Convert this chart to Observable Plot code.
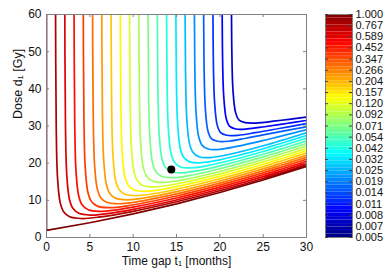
<!DOCTYPE html>
<html><head><meta charset="utf-8">
<script src="https://cdn.jsdelivr.net/npm/d3@7"></script>
<script src="https://cdn.jsdelivr.net/npm/@observablehq/plot@0.6"></script>
<style>
html,body{margin:0;padding:0;background:#fff;}
#chart{position:relative;width:388px;height:273px;}
#chart svg{position:absolute;left:0;top:0;}
</style></head><body><div id="chart"></div>
<script>
const levelLabels = ["1.000","0.767","0.589","0.452","0.347","0.266","0.204","0.157","0.120","0.092","0.071","0.054","0.042","0.032","0.025","0.019","0.014","0.011","0.008","0.007","0.005"];
const xTicks = [0,5,10,15,20,25,30];
const yTicks = [0,10,20,30,40,50,60];
const markerPoint = [[14.4, 18.3]];

// contour lines, one per level (t1 in months, d1 in Gy)
const c00 = [[0,60],[0,1.9],[5,3.96],[10,6.35],[15,9.06],[20,12.1],[25,15.46],[30,19.15]];
const c01 = [[1.035,69.23],[1.125,29.27],[1.275,15.99],[1.575,9.45],[1.975,6.94],[2.675,5.58],[3.975,5.11],[5.975,5.46],[10,7.05],[15,9.61],[20,12.57],[25,15.89],[30,19.55]];
const c02 = [[2.1,70.13],[2.19,30.16],[2.34,16.88],[2.64,10.35],[3.04,7.85],[3.74,6.50],[5.04,6.04],[7.04,6.43],[10,7.58],[15,10.10],[20,13.05],[25,16.37],[30,20.02]];
const c03 = [[3.167,71.06],[3.257,31.10],[3.407,17.82],[3.707,11.29],[4.107,8.79],[4.807,7.45],[6.107,7.02],[8.107,7.43],[10,8.15],[15,10.62],[20,13.56],[25,16.87],[30,20.52]];
const c04 = [[4.23,72.02],[4.32,32.06],[4.47,18.79],[4.77,12.26],[5.17,9.77],[5.87,8.44],[7.17,8.02],[9.17,8.46],[15,11.16],[20,14.08],[25,17.38],[30,21.04]];
const c05 = [[5.3,73.04],[5.39,33.08],[5.54,19.80],[5.84,13.28],[6.24,10.79],[6.94,9.47],[8.24,9.08],[10.24,9.54],[15,11.74],[20,14.64],[25,17.93],[30,21.58]];
const c06 = [[6.36,74.07],[6.45,34.11],[6.6,20.84],[6.9,14.32],[7.3,11.84],[8.0,10.53],[9.3,10.15],[11.3,10.64],[15,12.34],[20,15.21],[25,18.49],[30,22.14]];
const c07 = [[7.43,75.14],[7.52,35.19],[7.67,21.92],[7.97,15.40],[8.37,12.93],[9.07,11.62],[10.37,11.26],[12.37,11.79],[15,12.98],[20,15.81],[25,19.08],[30,22.72]];
const c08 = [[8.49,76.26],[8.58,36.31],[8.73,23.04],[9.03,16.53],[9.43,14.06],[10.13,12.77],[11.43,12.43],[13.43,12.98],[15,13.67],[20,16.45],[25,19.70],[30,23.33]];
const c09 = [[9.56,77.42],[9.65,37.46],[9.8,24.20],[10.1,17.69],[10.5,15.23],[11.2,13.94],[12.5,13.62],[14.5,14.20],[20,17.10],[25,20.34],[30,23.96]];
const c10 = [[10.625,78.59],[10.715,38.64],[10.865,25.38],[11.165,18.87],[11.565,16.41],[12.265,15.14],[13.565,14.83],[15.565,15.44],[20,17.77],[25,20.99],[30,24.61]];
const c11 = [[11.69,79.82],[11.78,39.87],[11.93,26.61],[12.23,20.11],[12.63,17.66],[13.33,16.39],[14.63,16.10],[16.63,16.74],[20,18.50],[25,21.68],[30,25.29]];
const c12 = [[12.76,81.09],[12.85,41.14],[13.0,27.88],[13.3,21.38],[13.7,18.94],[14.4,17.68],[15.7,17.41],[17.7,18.07],[20,19.26],[25,22.40],[30,25.99]];
const c13 = [[13.82,82.37],[13.91,42.42],[14.06,29.17],[14.36,22.68],[14.76,20.24],[15.46,18.99],[16.76,18.74],[18.76,19.43],[22,21.20],[25,23.13],[30,26.71]];
const c14 = [[14.89,83.71],[14.98,43.76],[15.13,30.51],[15.43,24.02],[15.83,21.58],[16.53,20.35],[17.83,20.12],[19.83,20.83],[22.5,22.30],[25,23.89],[30,27.45]];
const c15 = [[15.95,85.06],[16.04,45.12],[16.19,31.87],[16.49,25.38],[16.89,22.95],[17.59,21.73],[18.89,21.51],[20.89,22.26],[25,24.68],[30,28.21]];
const c16 = [[17.02,86.5],[17.11,46.6],[17.26,33.5],[17.56,27.1],[17.96,24.8],[18.66,23.8],[19.96,23.7],[21.96,24.5],[25,26.1],[30,29.0]];
const c17 = [[18.08,88.0],[18.17,48.0],[18.32,35.0],[18.62,28.7],[19.02,26.6],[19.72,25.9],[21.02,25.9],[23.02,26.7],[25,27.6],[30,29.81]];
const c18 = [[19.15,89.4],[19.24,49.6],[19.39,36.6],[19.69,30.3],[20.09,28.2],[20.79,27.5],[22.09,27.5],[24.09,28.2],[27,29.4],[30,30.64]];
const c19 = [[20.21,91.0],[20.3,51.0],[20.45,38.0],[20.75,31.9],[21.15,29.9],[21.85,29.2],[23.15,29.2],[25.15,29.8],[27.5,30.6],[30,31.5]];
const c20 = [[21.28,92.0],[21.37,52.5],[21.52,39.5],[21.82,33.6],[22.22,31.6],[22.92,30.9],[24.22,30.8],[26.22,31.3],[28,31.8],[30,32.4]];
const curves = [c00,c01,c02,c03,c04,c05,c06,c07,c08,c09,c10,c11,c12,c13,c14,c15,c16,c17,c18,c19,c20];

const jetDomain = [0, 2.5, 7.5, 12.5, 17.5, 20];
const jetRange = ["#00007f","#0000ff","#00ffff","#ffff00","#ff0000","#7f0000"];
const colorScale = {type:"linear", domain: jetDomain, range: jetRange, interpolate:"rgb"};
const font = "'Liberation Sans', Arial, Helvetica, sans-serif";
const axisGrey = "#808080";

const rows = curves.flatMap((pts,k)=>pts.map(([t,d])=>({t,d,k})));
const lineColorValue = r => 1.6 + 18.4*(20 - r.k)/20;

const main = Plot.plot({
  width:388, height:273, marginLeft:46, marginRight:82, marginTop:14, marginBottom:36,
  style:{fontFamily:font, fontSize:"12px", color:"#111", background:"#fff"},
  x:{domain:[0,30]}, y:{domain:[0,60]},
  color: colorScale,
  marks:[
    Plot.line(rows.filter(r=>r.k>0), {x:"t", y:"d", z:"k", stroke:lineColorValue, curve:"catmull-rom", strokeWidth:1.7, clip:true}),
    Plot.line(rows.filter(r=>r.k===0), {x:"t", y:"d", stroke:lineColorValue, strokeWidth:1.7, clip:true}),
    Plot.dot(markerPoint, {x:d=>d[0], y:d=>d[1], r:4, fill:"#000"}),
    Plot.frame({stroke:axisGrey}),
    Plot.tickX(xTicks, {x:d=>d, insetTop:220, stroke:axisGrey}),
    Plot.tickX(xTicks, {x:d=>d, insetBottom:220, stroke:axisGrey}),
    Plot.tickY(yTicks, {y:d=>d, insetRight:257, stroke:axisGrey}),
    Plot.tickY(yTicks, {y:d=>d, insetLeft:257, stroke:axisGrey}),
    Plot.axisX({ticks:xTicks, tickSize:0, tickPadding:5, label:null, fontSize:12}),
    Plot.axisY({ticks:yTicks, tickSize:0, tickPadding:5, label:null, fontSize:12}),
    Plot.text(["Time gap t₁ [months]"], {text:d=>d, frameAnchor:"bottom", dy:24, lineAnchor:"middle", fontSize:12}),
    Plot.text(["Dose d₁ [Gy]"], {text:d=>d, frameAnchor:"left", dx:-29, dy:-7, rotate:-90, lineAnchor:"middle", fontSize:12.5})
  ]
});

const bandCount = 64;
const bands = d3.range(bandCount).map(j=>({y1:j*20/bandCount, y2:(j+1)*20/bandCount, v:20-(j+0.5)*20/bandCount}));
const levelIndex = d3.range(levelLabels.length);

const bar = Plot.plot({
  width:388, height:273, marginLeft:325, marginRight:36, marginTop:14, marginBottom:36,
  style:{fontFamily:font, fontSize:"11px", color:"#111", background:"transparent"},
  x:{domain:[0,1], axis:null},
  y:{domain:[0,20], reverse:true, axis:null},
  color: colorScale,
  marks:[
    Plot.rect(bands, {x1:0, x2:1, y1:"y1", y2:"y2", fill:"v"}),
    Plot.frame({stroke:axisGrey}),
    Plot.tickY(levelIndex, {y:d=>d, insetLeft:24, stroke:"#404040"}),
    Plot.tickY(levelIndex, {y:d=>d, insetRight:24, stroke:"#404040"}),
    Plot.axisY({anchor:"right", ticks:levelIndex, tickFormat:i=>levelLabels[i], tickSize:0, tickPadding:3, fontSize:11, label:null})
  ]
});

const root = document.getElementById("chart");
root.appendChild(main);
root.appendChild(bar);
</script></body></html>
